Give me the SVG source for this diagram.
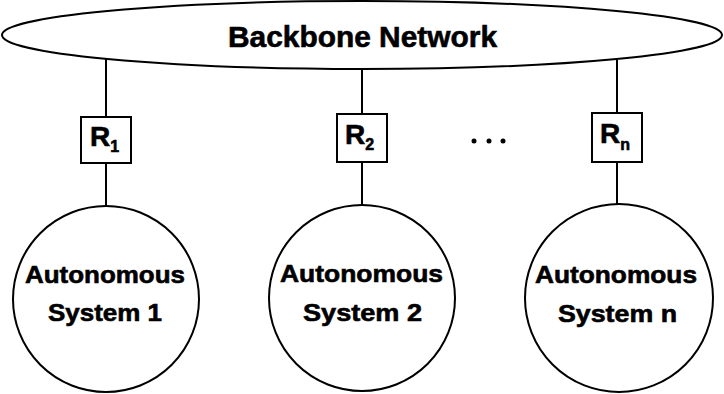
<svg xmlns="http://www.w3.org/2000/svg" width="724" height="394" viewBox="0 0 724 394">
<style>
.s{fill:#fff;stroke:#000;stroke-width:2}
.l{stroke:#000;stroke-width:2;fill:none}
text{font-family:"Liberation Sans",Arial,sans-serif;font-weight:bold;fill:#000;stroke:#000;stroke-width:0.6}
.t{font-size:24px;text-anchor:middle}
.r{font-size:28px}
.sub{font-size:16px}
</style>
<rect width="724" height="394" fill="#fff"/>
<g id="connectors">
<line class="l" x1="106" y1="59" x2="106" y2="117"/>
<line class="l" x1="106" y1="163" x2="106" y2="206"/>
<line class="l" x1="362" y1="69" x2="362" y2="114"/>
<line class="l" x1="362" y1="162" x2="362" y2="205"/>
<line class="l" x1="617" y1="60" x2="617" y2="113"/>
<line class="l" x1="617" y1="162" x2="617" y2="205"/>
</g>
<g id="backbone">
<ellipse class="s" cx="362" cy="35" rx="360" ry="34"/>
<text x="362.5" y="47" font-size="30" text-anchor="middle" textLength="269" lengthAdjust="spacingAndGlyphs">Backbone Network</text>
</g>
<g id="r1">
<rect class="s" x="81" y="117" width="50" height="46"/>
<text class="r" x="90" y="146">R<tspan class="sub" dy="6">1</tspan></text>
</g>
<g id="r2">
<rect class="s" x="337" y="114" width="50" height="48"/>
<text class="r" x="345" y="144">R<tspan class="sub" dy="6">2</tspan></text>
</g>
<g id="rn">
<rect class="s" x="592" y="113" width="50" height="49"/>
<text class="r" x="600" y="143">R<tspan class="sub" dy="7">n</tspan></text>
</g>
<g id="dots">
<circle cx="474" cy="141" r="2.5"/>
<circle cx="489" cy="141" r="2.5"/>
<circle cx="503" cy="141" r="2.5"/>
</g>
<g id="as1">
<circle class="s" cx="106" cy="299" r="93"/>
<text class="t" x="105" y="283" textLength="160" lengthAdjust="spacingAndGlyphs">Autonomous</text>
<text class="t" x="105" y="321" font-size="25" textLength="114" lengthAdjust="spacingAndGlyphs">System 1</text>
</g>
<g id="as2">
<circle class="s" cx="362" cy="298" r="93"/>
<text class="t" x="361.5" y="282" textLength="163" lengthAdjust="spacingAndGlyphs">Autonomous</text>
<text class="t" x="362.5" y="321" font-size="25" textLength="119" lengthAdjust="spacingAndGlyphs">System 2</text>
</g>
<g id="asn">
<circle class="s" cx="619" cy="298" r="94"/>
<text class="t" x="616" y="283" textLength="162" lengthAdjust="spacingAndGlyphs">Autonomous</text>
<text class="t" x="617.5" y="322" font-size="25" textLength="119" lengthAdjust="spacingAndGlyphs">System n</text>
</g>
</svg>
